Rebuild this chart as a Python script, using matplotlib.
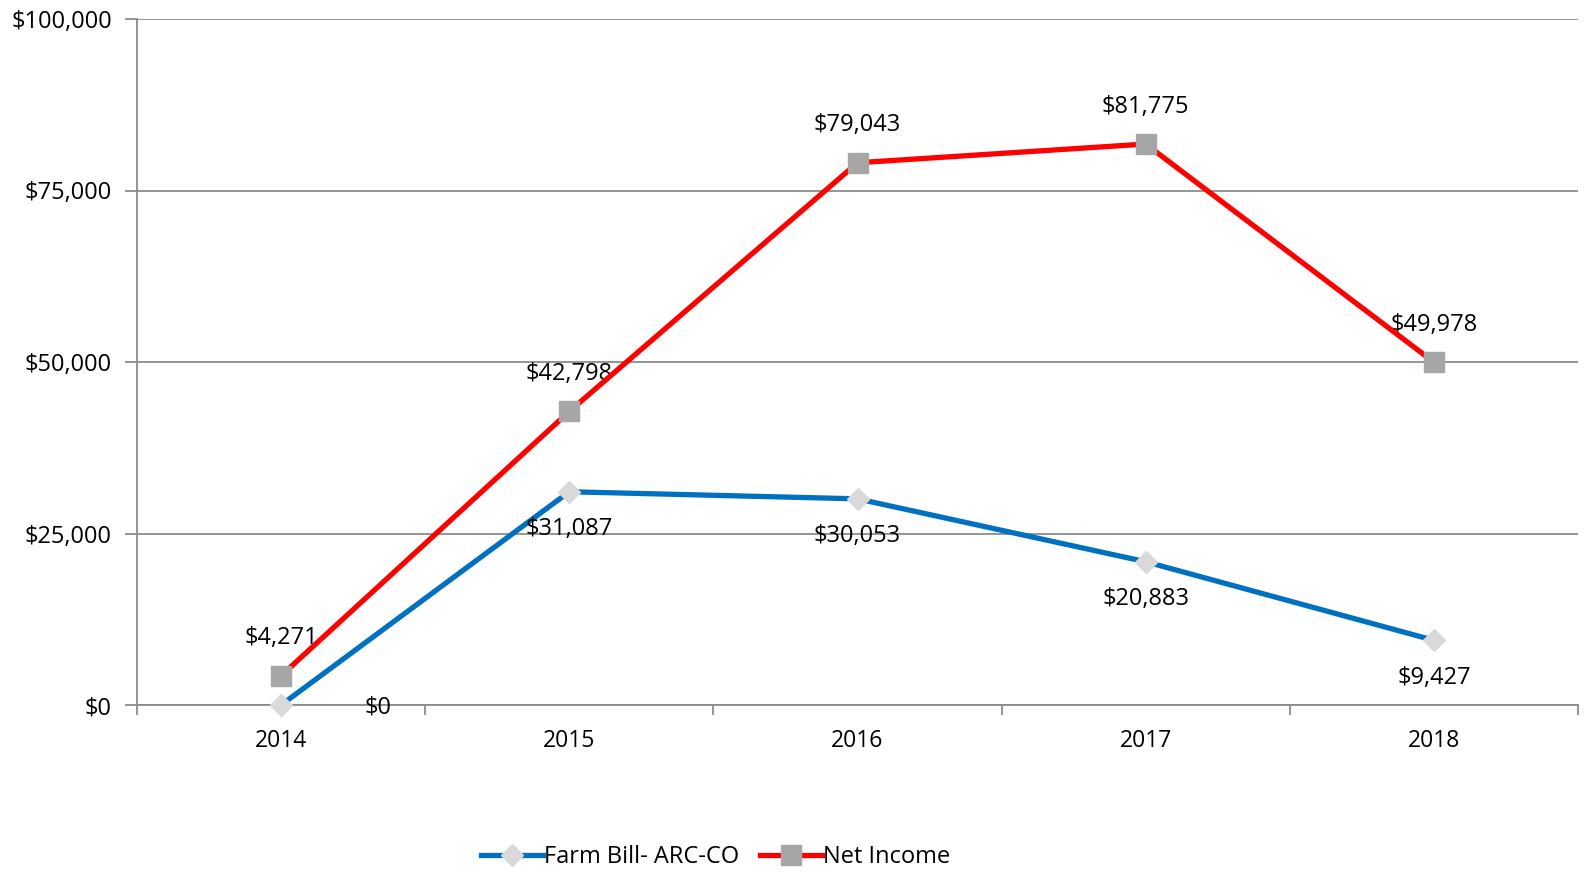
import matplotlib.pyplot as plt
from matplotlib.ticker import FuncFormatter, FixedLocator

plt.rcParams['font.family'] = ['Open Sans', 'DejaVu Sans']

years = ['2014', '2015', '2016', '2017', '2018']
farm_bill = [0, 31087, 30053, 20883, 9427]
net_income = [4271, 42798, 79043, 81775, 49978]

grid_col = '#8c8c8c'
fs = 17

fig = plt.figure(figsize=(15.87, 8.73), dpi=100)
ax = fig.add_axes([137/1587, 1-705/873, (1578-137)/1587, (705-19)/873])

x = range(len(years))
ax.plot(x, farm_bill, color='#0070c0', lw=3.8, marker='D', ms=11,
        mfc='#d9d9d9', mec='#d9d9d9', label='Farm Bill- ARC-CO', zorder=3, clip_on=False)
ax.plot(x, net_income, color='#ff0000', lw=3.8, marker='s', ms=14,
        mfc='#a6a6a6', mec='#a6a6a6', label='Net Income', zorder=4, clip_on=False)

for i, v in enumerate(net_income):
    ax.annotate('${:,}'.format(v), (i, v), xytext=(0, 27), textcoords='offset points',
                ha='center', va='center', fontsize=fs)
for i, v in enumerate(farm_bill):
    if v == 0:
        ax.annotate('$0', (i, v), xytext=(70, -2), textcoords='offset points',
                    ha='center', va='center', fontsize=fs)
    else:
        ax.annotate('${:,}'.format(v), (i, v), xytext=(0, -27), textcoords='offset points',
                    ha='center', va='center', fontsize=fs)

ax.set_xlim(-0.5, len(years) - 0.5)
ax.set_ylim(0, 100000)
ax.set_yticks([0, 25000, 50000, 75000, 100000])
ax.yaxis.set_major_formatter(FuncFormatter(lambda v, p: '${:,.0f}'.format(v)))
ax.set_xticks(list(x))
ax.set_xticklabels(years)
ax.xaxis.set_minor_locator(FixedLocator([i - 0.5 for i in range(len(years) + 1)]))
ax.tick_params(axis='x', which='major', length=0, labelsize=fs - 0.5, pad=17)
ax.tick_params(axis='x', which='minor', length=7, width=1.3, color=grid_col, direction='out')
ax.tick_params(axis='y', length=9, width=1.3, color=grid_col, labelsize=fs, pad=9)

ax.grid(axis='y', color=grid_col, lw=1.3)
ax.set_axisbelow(True)
for s in ['top', 'right']:
    ax.spines[s].set_visible(False)
for s in ['left', 'bottom']:
    ax.spines[s].set_color(grid_col)
    ax.spines[s].set_linewidth(1.3)

fig.legend(loc='center', bbox_to_anchor=(0.451, 1-857/873), ncol=2, frameon=False,
           fontsize=fs, handlelength=2.6, handletextpad=0.05, columnspacing=0.9)

fig.savefig('out.png', dpi=100)
